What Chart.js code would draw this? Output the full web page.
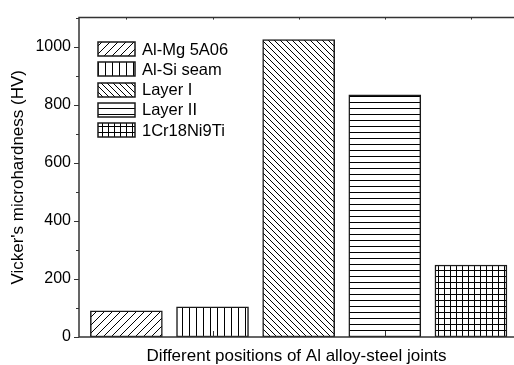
<!DOCTYPE html>
<html>
<head>
<meta charset="utf-8">
<script src="https://cdn.jsdelivr.net/npm/chart.js@4"></script>
<style>
  html, body { margin: 0; padding: 0; background: #fff; }
  #wrap { width: 514px; height: 365px; }
</style>
</head>
<body>
<div id="wrap"><canvas id="barChart"></canvas></div>
<script>
// data
const positions = ["Al-Mg 5A06", "Al-Si seam", "Layer I", "Layer II", "1Cr18Ni9Ti"];
const xPos = [1, 2, 3, 4, 5];
const hardness = [90, 104, 1024, 834, 248];
const yTicks = [0, 200, 400, 600, 800, 1000];
const hatchKinds = ["fwd", "vert", "back", "horiz", "grid"];

const FONT = "'Liberation Sans', Arial, sans-serif";

// small hatch tiles for the bar fills
function makeHatch(kind) {
  const sizes = { fwd: 8, vert: 7, back: 6, horiz: 6, grid: 6 };
  const s = sizes[kind];
  const c = document.createElement("canvas");
  c.width = s;
  c.height = s;
  const g = c.getContext("2d");
  g.fillStyle = "#fff";
  g.fillRect(0, 0, s, s);
  g.strokeStyle = "#000";
  g.lineWidth = 1;
  g.beginPath();
  if (kind === "fwd") {
    g.moveTo(-1, s + 1); g.lineTo(s + 1, -1);
    g.moveTo(-1, 1); g.lineTo(1, -1);
    g.moveTo(s - 1, s + 1); g.lineTo(s + 1, s - 1);
  } else if (kind === "back") {
    g.moveTo(-1, -1); g.lineTo(s + 1, s + 1);
    g.moveTo(-1, s - 1); g.lineTo(1, s + 1);
    g.moveTo(s - 1, -1); g.lineTo(s + 1, 1);
  } else if (kind === "vert") {
    g.moveTo(0.5, 0); g.lineTo(0.5, s);
  } else if (kind === "horiz") {
    g.moveTo(0, 0.5); g.lineTo(s, 0.5);
  } else {
    g.moveTo(0.5, 0); g.lineTo(0.5, s);
    g.moveTo(0, 0.5); g.lineTo(s, 0.5);
  }
  g.stroke();
  return g.createPattern(c, "repeat");
}

const ctx = document.getElementById("barChart").getContext("2d");

const datasets = positions.map((name, i) => ({
  label: name,
  data: [{ x: xPos[i], y: hardness[i] }],
  backgroundColor: makeHatch(hatchKinds[i]),
  borderColor: "#1a1a1a",
  borderWidth: 1.5,
  borderSkipped: false,
  barThickness: 72,
  grouped: false,
}));

// axes frame, tick marks and the boxed legend inside the plot
const framePlugin = {
  id: "frame",
  afterDraw(chart) {
    const { ctx, chartArea: a, scales } = chart;
    const ys = scales.y;
    const xs = scales.x;
    ctx.save();
    ctx.strokeStyle = "#333";
    ctx.lineWidth = 1.5;
    ctx.beginPath();
    ctx.moveTo(a.right, a.top);
    ctx.lineTo(a.left, a.top);
    ctx.lineTo(a.left, a.bottom);
    ctx.lineTo(a.right, a.bottom);
    ctx.stroke();

    ctx.lineWidth = 1;
    ctx.beginPath();
    for (let v = 0; v <= 1100; v += 100) {
      const py = Math.round(ys.getPixelForValue(v)) + 0.5;
      const len = v % 200 === 0 ? 5 : 3;
      ctx.moveTo(a.left - len, py);
      ctx.lineTo(a.left, py);
    }
    [2, 4].forEach((v) => {
      const px = Math.round(xs.getPixelForValue(v)) + 0.5;
      ctx.moveTo(px, a.bottom);
      ctx.lineTo(px, a.bottom - 6);
    });
    xPos.forEach((v) => {
      const px = Math.round(xs.getPixelForValue(v)) + 0.5;
      ctx.moveTo(px, a.top);
      ctx.lineTo(px, a.top + 2);
    });
    ctx.stroke();

    // legend
    ctx.font = "16.5px " + FONT;
    ctx.textBaseline = "middle";
    chart.data.datasets.forEach((ds, i) => {
      const cy = 49 + i * 20.3;
      const bx = 98, bw = 37, bh = 14;
      ctx.fillStyle = ds.backgroundColor;
      ctx.fillRect(bx, Math.round(cy - bh / 2), bw, bh);
      ctx.strokeStyle = "#1a1a1a";
      ctx.lineWidth = 1.5;
      ctx.strokeRect(bx, Math.round(cy - bh / 2), bw, bh);
      ctx.fillStyle = "#000";
      ctx.fillText(ds.label, 142, cy + 1);
    });
    ctx.restore();
  },
};

let myChart = new Chart(ctx, {
  type: "bar",
  data: { datasets: datasets },
  options: {
    responsive: true,
    maintainAspectRatio: false,
    animation: false,
    layout: { padding: { top: 12, right: 0, left: 0, bottom: 0 } },
    plugins: {
      legend: { display: false },
      tooltip: { enabled: false },
    },
    scales: {
      x: {
        type: "linear",
        min: 0.45,
        max: 5.5,
        offset: false,
        grid: { display: false, drawTicks: false, offset: false },
        border: { display: false },
        ticks: { display: false },
        afterFit: (s) => { s.height = 28; },
        title: {
          display: true,
          text: "Different positions of Al alloy-steel joints",
          color: "#000",
          font: { family: FONT, size: 17, lineHeight: 1 },
          padding: { top: 0, bottom: 0 },
        },
      },
      y: {
        min: 0,
        max: 1100,
        grid: { display: false, drawTicks: false },
        border: { display: false },
        ticks: {
          stepSize: 100,
          padding: 8,
          color: "#000",
          font: { family: FONT, size: 16 },
          callback: (v) => (yTicks.includes(v) ? String(v) : ""),
        },
        afterFit: (s) => { s.width = 79; },
        title: {
          display: true,
          text: "Vicker's microhardness (HV)",
          color: "#000",
          font: { family: FONT, size: 17, lineHeight: 1 },
          padding: { top: 10, bottom: 0 },
        },
      },
    },
  },
  plugins: [framePlugin],
});
</script>
</body>
</html>
